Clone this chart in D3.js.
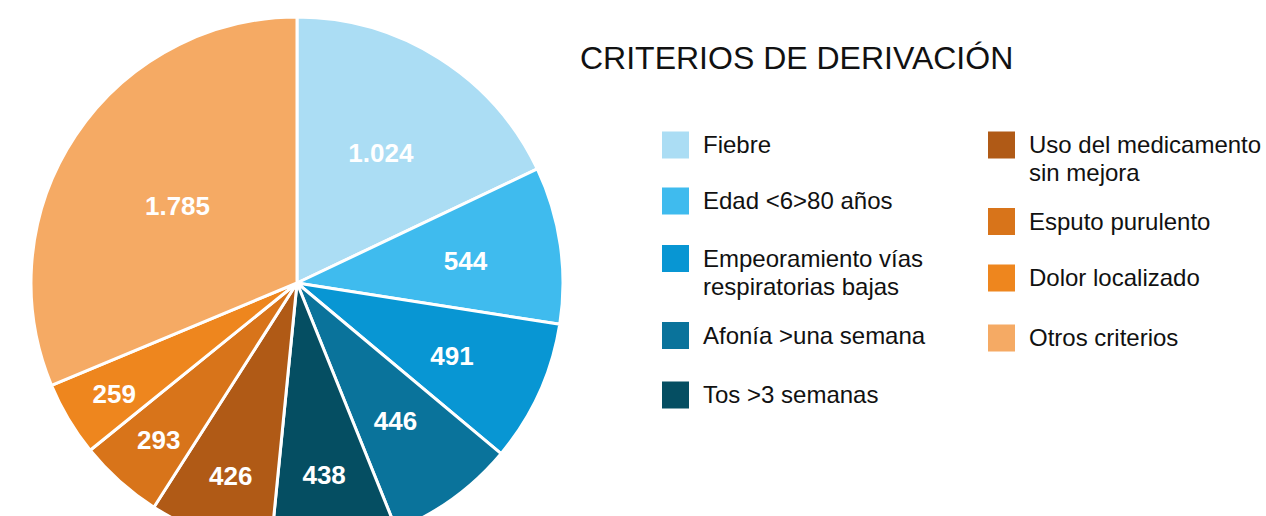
<!DOCTYPE html>
<html>
<head>
<meta charset="utf-8">
<script src="https://cdn.jsdelivr.net/npm/d3@7"></script>
<style>
  html, body { margin: 0; padding: 0; background: #fff; }
  svg { display: block; }
  text { font-family: "Liberation Sans", Arial, sans-serif; }
</style>
</head>
<body>
<svg id="chart" width="1266" height="516"></svg>
<script>
// ---- data ----
const categories = [
  "Fiebre",
  "Edad <6>80 años",
  "Empeoramiento vías respiratorias bajas",
  "Afonía >una semana",
  "Tos >3 semanas",
  "Uso del medicamento sin mejora",
  "Esputo purulento",
  "Dolor localizado",
  "Otros criterios"
];
const values = [1024, 544, 491, 446, 438, 426, 293, 259, 1785];
const valueLabels = ["1.024", "544", "491", "446", "438", "426", "293", "259", "1.785"];
const colors = ["#ABDDF4", "#3FBBEE", "#0896D3", "#0A739B", "#054E62", "#B05A16", "#D8741A", "#EE861E", "#F5AA64"];
const legendLines = [
  ["Fiebre"],
  ["Edad <6>80 años"],
  ["Empeoramiento vías", "respiratorias bajas"],
  ["Afonía >una semana"],
  ["Tos >3 semanas"],
  ["Uso del medicamento", "sin mejora"],
  ["Esputo purulento"],
  ["Dolor localizado"],
  ["Otros criterios"]
];
const title = "CRITERIOS DE DERIVACIÓN";

// ---- layout ----
const cx = 297, cy = 283, R = 266;
const labelFrac = [0.59, 0.64, 0.64, 0.63, 0.72, 0.76, 0.78, 0.80, 0.54];

const svg = d3.select("#chart");
const color = d3.scaleOrdinal().domain(categories).range(colors);

const pie = d3.pie().sort(null).value(d => d.value);
const data = categories.map((c, i) => ({ cat: c, value: values[i], label: valueLabels[i], i }));
const arcs = pie(data);
const arc = d3.arc().innerRadius(0).outerRadius(R);

const g = svg.append("g").attr("transform", `translate(${cx},${cy})`);
g.selectAll("path.slice")
  .data(arcs)
  .join("path")
  .attr("class", "slice")
  .attr("d", arc)
  .attr("fill", d => color(d.data.cat))
  .attr("stroke", "#fff")
  .attr("stroke-width", 3)
  .attr("stroke-linejoin", "round");

g.selectAll("text.val")
  .data(arcs)
  .join("text")
  .attr("class", "val")
  .attr("transform", d => {
    const r = R * labelFrac[d.data.i];
    const c = d3.arc().innerRadius(r).outerRadius(r).centroid(d);
    return `translate(${c[0]},${c[1] + 2})`;
  })
  .attr("text-anchor", "middle")
  .attr("dy", "0.36em")
  .attr("fill", "#fff")
  .attr("font-weight", "bold")
  .attr("font-size", 26)
  .text(d => d.data.label);

// title
svg.append("text")
  .attr("x", 580)
  .attr("y", 69)
  .attr("font-size", 32)
  .attr("fill", "#111")
  .text(title);

// legend
const legendPos = [
  { x: 662, y: 145 }, { x: 662, y: 201 }, { x: 662, y: 258.5 }, { x: 662, y: 335.5 }, { x: 662, y: 395 },
  { x: 988, y: 145 }, { x: 988, y: 221.5 }, { x: 988, y: 278 }, { x: 988, y: 338 }
];
const lg = svg.append("g");
const items = lg.selectAll("g.item")
  .data(categories)
  .join("g")
  .attr("class", "item")
  .attr("transform", (d, i) => `translate(${legendPos[i].x},${legendPos[i].y})`);
items.append("rect")
  .attr("x", 0).attr("y", -13.5)
  .attr("width", 27).attr("height", 27)
  .attr("fill", d => color(d));
items.append("text")
  .attr("x", 41)
  .attr("y", 8)
  .attr("font-size", 24)
  .attr("fill", "#111")
  .selectAll("tspan")
  .data((d, i) => legendLines[i])
  .join("tspan")
  .attr("x", 41)
  .attr("dy", (d, j) => j === 0 ? 0 : 28)
  .text(d => d);
</script>
</body>
</html>
